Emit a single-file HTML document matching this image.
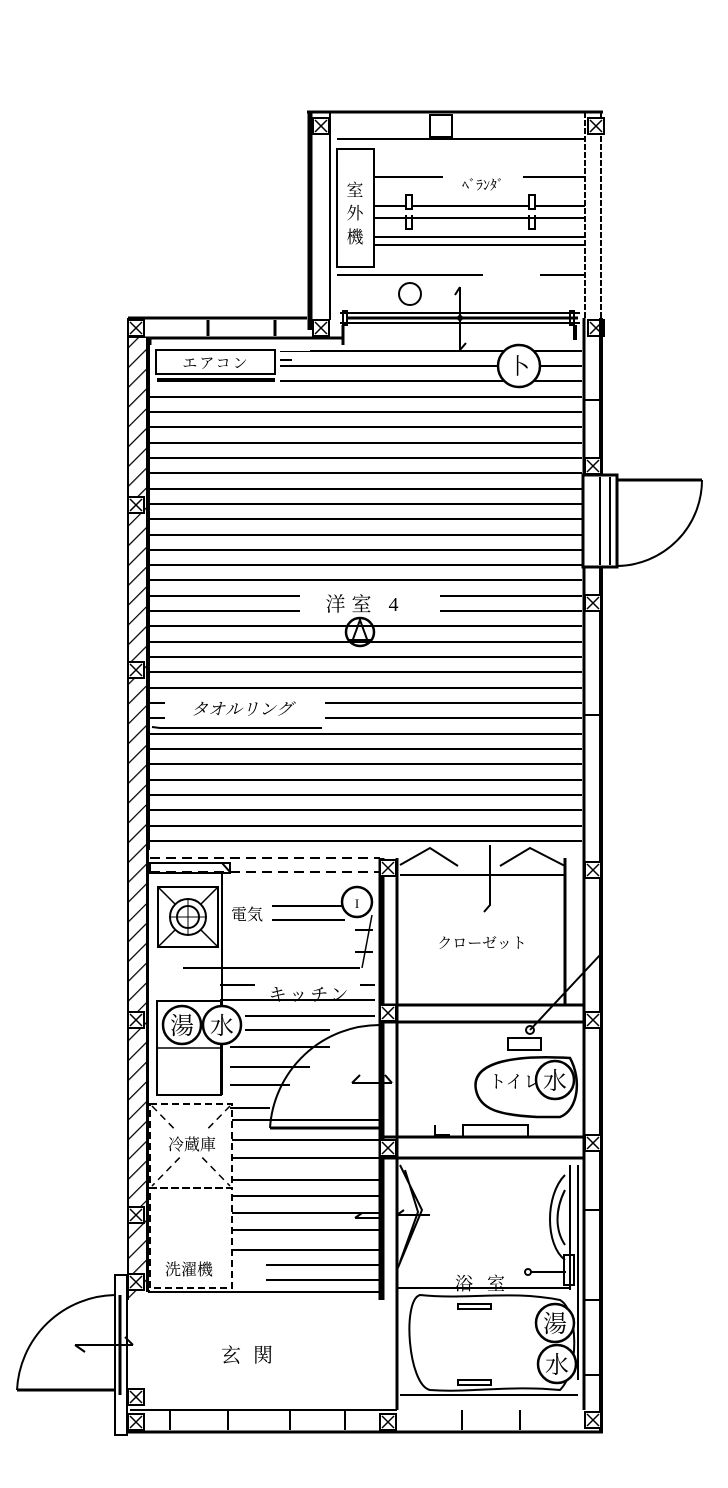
<!DOCTYPE html>
<html><head><meta charset="utf-8"><style>
html,body{margin:0;padding:0;background:#fff;}
svg{display:block;}
text{font-family:"Liberation Serif","Noto Serif CJK SC","Noto Sans CJK JP",serif;fill:#000;stroke:none;}
</style></head><body>
<svg width="728" height="1488" viewBox="0 0 728 1488" xmlns="http://www.w3.org/2000/svg">
<defs>
<pattern id="hatch" width="14" height="14" patternUnits="userSpaceOnUse" patternTransform="rotate(45)">
<rect width="14" height="14" fill="#fff"/><line x1="0" y1="0" x2="0" y2="14" stroke="#000" stroke-width="2.5"/>
</pattern>
<g id="xb"><rect x="-8" y="-8" width="16" height="16" fill="#fff" stroke="#000" stroke-width="2"/><path d="M-6 -6L6 6M6 -6L-6 6" stroke="#000" stroke-width="1.5"/></g>
</defs>
<g stroke="#000" fill="none">
<g stroke-width="2">
<path d="M150 351H582M150 366H582M150 381H582M150 397H582M150 412H582M150 427H582M150 443H582M150 458H582M150 473H582M150 489H582M150 504H582M150 519H582M150 535H582M150 550H582M150 565H582M150 580H582M150 596H582M150 611H582M150 626H582M150 642H582M150 657H582M150 672H582M150 688H582M150 703H582M150 718H582M150 734H582M150 749H582M150 764H582M150 780H582M150 795H582M150 810H582M150 826H582M150 841H582"/>
</g>
<rect x="300" y="590" width="140" height="28" fill="#fff" stroke="none"/>
<rect x="165" y="695" width="160" height="24" fill="#fff" stroke="none"/>
<rect x="150" y="343" width="130" height="43" fill="#fff" stroke="none"/>
<rect x="150" y="343" width="160" height="8" fill="#fff" stroke="none"/>

<rect x="307" y="112" width="296" height="226" fill="#fff" stroke="none"/>
<path d="M310 112V330" stroke-width="5"/>
<path d="M307 112H603" stroke-width="3"/>
<path d="M337 139H585" stroke-width="2"/>
<path d="M585 112V320M601 112V320" stroke-width="2" stroke-dasharray="6 2"/>
<path d="M330 112V320" stroke-width="2"/>
<rect x="430" y="115" width="22" height="22" stroke-width="2"/>
<path d="M337 177H450M450 177L445 182M410 177H585M337 206H585M337 218H585M337 237H585M337 245H585M337 275H483M540 275H585" stroke-width="2"/>
<rect x="337" y="149" width="37" height="118" fill="#fff" stroke-width="2"/>
<text x="355" y="196" font-size="17" text-anchor="middle">室</text>
<text x="355" y="219" font-size="17" text-anchor="middle">外</text>
<text x="355" y="243" font-size="17" text-anchor="middle">機</text>
<rect x="443" y="176" width="80" height="16" fill="#fff" stroke="none"/>
<text x="483" y="190" font-size="14" text-anchor="middle">ﾍﾞﾗﾝﾀﾞ</text>
<rect x="406" y="195" width="6" height="14" fill="#fff" stroke-width="2"/><path d="M406 215V229H412V215" stroke-width="2"/>
<rect x="529" y="195" width="6" height="14" fill="#fff" stroke-width="2"/><path d="M529 215V229H535V215" stroke-width="2"/>
<circle cx="410" cy="294" r="11" stroke-width="2"/>
<path d="M340 313H580M340 323H580" stroke-width="2"/>
<path d="M348 318H578" stroke-width="3"/>
<rect x="343" y="311" width="4" height="14" stroke-width="2"/><rect x="570" y="311" width="4" height="14" stroke-width="2"/>
<path d="M460 287V350M460 350L466 343M460 287L455 295" stroke-width="2"/>
<circle cx="460" cy="318" r="2.5" fill="#000"/>
<use href="#xb" x="321" y="126"/><use href="#xb" x="596" y="126"/>

<path d="M128 318H307M128 338H343" stroke-width="3"/>
<path d="M150 338V345M343 325V345" stroke-width="3"/>
<path d="M208 320V336M275 320V336" stroke-width="3"/>
<path d="M575 325V340" stroke-width="4"/>
<use href="#xb" x="136" y="328"/><use href="#xb" x="321" y="328"/><use href="#xb" x="596" y="328"/>

<rect x="129" y="338" width="18" height="960" fill="url(#hatch)" stroke="none"/>
<path d="M128 318V1300" stroke-width="2"/>
<path d="M148 338V1292" stroke-width="4"/>
<use href="#xb" x="136" y="505"/><use href="#xb" x="136" y="670"/><use href="#xb" x="136" y="1020"/><use href="#xb" x="136" y="1215"/><use href="#xb" x="136" y="1282"/>

<rect x="585" y="340" width="15" height="1068" fill="#fff" stroke="none"/>
<path d="M584 318V1410" stroke-width="3"/>
<path d="M601 318V1432" stroke-width="4"/>
<path d="M584 400H601M584 715H601M584 1210H601M584 1375H601M584 1300H601" stroke-width="2"/>
<use href="#xb" x="593" y="466"/><use href="#xb" x="593" y="603"/><use href="#xb" x="593" y="870"/><use href="#xb" x="593" y="1020"/><use href="#xb" x="593" y="1143"/><use href="#xb" x="593" y="1420"/>
<rect x="583" y="475" width="34" height="92" fill="#fff" stroke-width="3"/>
<path d="M600 477V565M610 477V565" stroke-width="2"/>
<path d="M617 480H702" stroke-width="3"/>
<path d="M702 480A86 86 0 0 1 617 566" stroke-width="2"/>

<rect x="156" y="350" width="119" height="24" fill="#fff" stroke-width="2"/>
<path d="M157 380H275" stroke-width="4"/>
<text x="216" y="368" font-size="15" text-anchor="middle" letter-spacing="2">エアコン</text>
<path d="M280 360H292" stroke-width="2"/>
<circle cx="519" cy="366" r="21" fill="#fff" stroke-width="2.5"/>
<text x="519" y="374" font-size="22" text-anchor="middle">卜</text>

<text x="365" y="611" font-size="20" text-anchor="middle" letter-spacing="6">洋室 4</text>
<circle cx="360" cy="632" r="14" stroke-width="2.5"/>
<path d="M352 642L360 620L368 642M348 640H372" stroke-width="2"/>
<text x="242" y="715" font-size="17" text-anchor="middle" font-style="italic">タオルリング</text>
<path d="M152 727L160 728H322" stroke-width="2"/>

<rect x="149" y="850" width="234" height="440" fill="#fff" stroke="none"/>
<path d="M150 858H380" stroke-width="2" stroke-dasharray="10 6"/>
<path d="M150 872H380" stroke-width="2" stroke-dasharray="10 6"/>
<rect x="150" y="863" width="80" height="10" stroke-width="2"/>
<path d="M222 863L230 872" stroke-width="2"/>
<rect x="158" y="887" width="60" height="60" stroke-width="2"/>
<path d="M158 887L218 947M218 887L158 947" stroke-width="1.5"/>
<circle cx="188" cy="917" r="18" fill="#fff" stroke-width="2"/>
<circle cx="188" cy="917" r="11" stroke-width="2"/>
<path d="M188 899V935M170 917H206" stroke-width="1"/>
<path d="M222 873V1095" stroke-width="2"/>
<text x="247" y="920" font-size="16" text-anchor="middle">電気</text>
<path d="M272 906H345M272 920H345M355 930H373M355 952H373M183 968H360M220 985H255M360 985H375M220 1000H375M245 1016H375M245 1030H330M230 1047H330M230 1067H310M230 1085H290M230 1108H270" stroke-width="2"/>
<circle cx="357" cy="902" r="15" fill="#fff" stroke-width="2.5"/>
<text x="357" y="908" font-size="13" text-anchor="middle">I</text>
<path d="M372 915L362 968" stroke-width="1.5"/>
<text x="310" y="1001" font-size="18" text-anchor="middle" letter-spacing="3">キッチン</text>
<rect x="157" y="1001" width="64" height="94" stroke-width="2"/>
<path d="M157 1048H221" stroke-width="1.5"/>
<circle cx="182" cy="1025" r="19" fill="#fff" stroke-width="2.5"/>
<circle cx="222" cy="1025" r="19" fill="#fff" stroke-width="2.5"/>
<text x="182" y="1034" font-size="24" text-anchor="middle">湯</text>
<text x="222" y="1034" font-size="24" text-anchor="middle">水</text>
<rect x="150" y="1104" width="82" height="84" stroke-width="2" stroke-dasharray="7 4"/>
<path d="M152 1106L230 1186M230 1106L152 1186" stroke-width="1.5" stroke-dasharray="7 5"/>
<rect x="155" y="1131" width="75" height="24" fill="#fff" stroke="none"/>
<text x="192" y="1150" font-size="16" text-anchor="middle">冷蔵庫</text>
<path d="M232 1120H380M232 1140H380M232 1158H380M232 1180H380M232 1196H380M232 1213H380M232 1230H380M232 1250H380M266 1265H380M266 1280H380" stroke-width="2"/>
<rect x="150" y="1188" width="82" height="100" stroke-width="2" stroke-dasharray="7 4"/>
<text x="189" y="1275" font-size="16" text-anchor="middle">洗濯機</text>
<path d="M355 1218H380M355 1218L362 1213" stroke-width="2"/>
<path d="M270 1128H380" stroke-width="3"/>
<path d="M270 1128A110 110 0 0 1 380 1025" stroke-width="2"/>
<path d="M352 1083H392M352 1083L360 1075M392 1083L385 1075" stroke-width="2"/>

<path d="M380 858V1300M383 858V1300" stroke-width="3"/>
<path d="M397 858V1410" stroke-width="3"/>
<path d="M383 1005H585" stroke-width="3"/><path d="M383 1022H585" stroke-width="3"/>
<path d="M383 1137H585" stroke-width="3"/><path d="M383 1158H585" stroke-width="3"/>
<path d="M565 858V1005" stroke-width="3"/>
<use href="#xb" x="388" y="868"/><use href="#xb" x="388" y="1013"/><use href="#xb" x="388" y="1148"/><use href="#xb" x="388" y="1422"/>
<path d="M400 865L430 848L458 866M500 866L530 848L565 866" stroke-width="2"/>
<path d="M400 875H565" stroke-width="2"/>
<path d="M490 845V905L484 912" stroke-width="2"/>
<text x="482" y="948" font-size="15" text-anchor="middle">クローゼット</text>
<path d="M530 1030L600 955" stroke-width="2"/>
<circle cx="530" cy="1030" r="4" stroke-width="2"/>
<rect x="508" y="1038" width="33" height="12" stroke-width="2"/>
<path d="M537 1117C500 1115 480 1110 476 1090C470 1060 520 1055 570 1058C582 1080 578 1110 560 1117Z" stroke-width="2.5"/>
<text x="515" y="1088" font-size="18" text-anchor="middle">トイレ</text>
<circle cx="555" cy="1080" r="19" fill="#fff" stroke-width="2.5"/>
<text x="555" y="1089" font-size="24" text-anchor="middle">水</text>
<rect x="463" y="1125" width="65" height="12" stroke-width="2"/>
<path d="M435 1125V1135H450" stroke-width="2"/>
<path d="M400 1165L422 1210L397 1270M405 1170L418 1212L400 1262" stroke-width="2"/>
<path d="M397 1215H430M397 1215L404 1210" stroke-width="2"/>
<path d="M397 1288H570" stroke-width="2"/>
<path d="M578 1165V1380M570 1165V1290" stroke-width="2"/>
<path d="M565 1175C545 1195 545 1245 565 1260M565 1190C555 1210 555 1230 565 1245" stroke-width="2"/>
<rect x="564" y="1255" width="10" height="30" stroke-width="2"/>
<path d="M530 1272H566" stroke-width="2"/><circle cx="528" cy="1272" r="3" stroke-width="2"/>
<text x="487" y="1290" font-size="18" text-anchor="middle" letter-spacing="14">浴室</text>
<path d="M400 1395H578" stroke-width="2"/>
<path d="M420 1295C402 1300 408 1385 430 1390C470 1393 510 1385 560 1390C580 1370 578 1310 560 1300C510 1290 470 1300 420 1295Z" stroke-width="2"/>
<rect x="458" y="1304" width="33" height="5" stroke-width="2"/>
<rect x="458" y="1380" width="33" height="5" stroke-width="2"/>
<circle cx="555" cy="1323" r="19" fill="#fff" stroke-width="2.5"/>
<circle cx="557" cy="1364" r="19" fill="#fff" stroke-width="2.5"/>
<text x="555" y="1332" font-size="24" text-anchor="middle">湯</text>
<text x="557" y="1373" font-size="24" text-anchor="middle">水</text>

<path d="M148 1292H383" stroke-width="2"/>
<path d="M130 1410H397" stroke-width="2"/>
<path d="M122 1432H603" stroke-width="3"/>
<path d="M170 1410V1430M228 1410V1430M290 1410V1430M345 1410V1430M520 1410V1430M462 1410V1430" stroke-width="2"/>
<use href="#xb" x="136" y="1422"/><use href="#xb" x="136" y="1397"/>
<text x="253" y="1362" font-size="20" text-anchor="middle" letter-spacing="12">玄関</text>
<rect x="115" y="1275" width="12" height="160" fill="#fff" stroke-width="2"/>
<path d="M120 1295V1395" stroke-width="3"/>
<path d="M17 1390H115" stroke-width="3"/>
<path d="M17 1390A100 100 0 0 1 115 1295" stroke-width="2"/>
<path d="M75 1345H133M75 1345L85 1352M133 1345L125 1337" stroke-width="2"/>
</g>
</svg>
</body></html>
